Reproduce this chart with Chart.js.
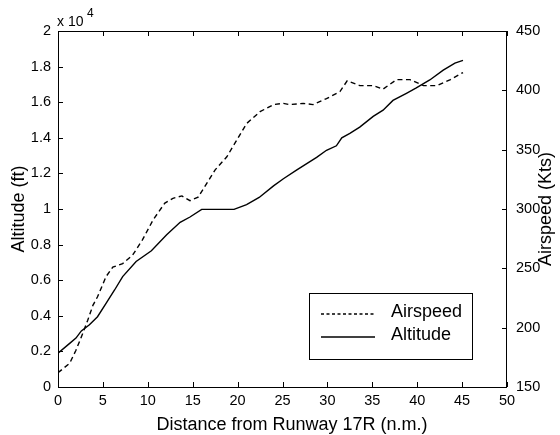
<!DOCTYPE html>
<html>
<head>
<meta charset="utf-8">
<script src="https://cdn.jsdelivr.net/npm/chart.js@4"></script>
<style>
  body { margin: 0; background: #fff; }
</style>
</head>
<body>
<canvas id="chart" width="560" height="435"></canvas>
<script>
// Altitude track (distance in n.m., altitude in ft)
const altDistance = [0, 1.3, 2.0, 2.6, 3.5, 4.4, 5.35, 6.3, 7.2, 8.7, 10.4, 12.1, 13.6, 14.7, 16.0,
  19.6, 21.0, 22.4, 24.0, 25.1, 26.6, 27.7, 28.8, 29.9, 31.0, 31.6, 32.5, 33.6, 35.1, 36.2, 37.3,
  38.8, 39.9, 41.4, 42.9, 44.2, 45.1];
const altitudeFt = [1900, 2450, 2750, 3150, 3500, 3950, 4700, 5450, 6200, 7050, 7650, 8550, 9250, 9550, 9980,
  9980, 10250, 10650, 11300, 11700, 12200, 12550, 12900, 13300, 13550, 14000, 14250, 14600, 15200, 15550, 16100,
  16500, 16800, 17250, 17800, 18200, 18350];

// Airspeed track (distance in n.m., speed in knots)
const spdDistance = [0, 1.3, 2.0, 2.75, 3.3, 3.9, 4.4, 5.35, 6.1, 7.2, 8.3, 9.4, 10.6, 11.9, 12.8, 13.8,
  14.7, 15.6, 16.6, 17.5, 18.8, 19.9, 21.0, 22.5, 24.0, 25.1, 25.8, 27.3, 28.4, 29.9, 31.4, 32.2, 33.6,
  35.1, 36.2, 37.7, 39.2, 40.7, 42.2, 43.7, 45.1];
const airspeedKts = [162, 170, 181, 195, 206, 219, 226, 243, 251, 254, 261, 274, 291, 305, 309, 311,
  307, 310, 322, 333, 344, 358, 372, 382, 388, 389, 388, 389, 388, 393, 399, 408, 404,
  404, 401, 409, 409, 404, 404, 409, 415];

const xTitle = "Distance from Runway 17R (n.m.)";
const yTitle = "Altitude (ft)";
const y2Title = "Airspeed (Kts)";

const FONT = "'Liberation Sans', Arial, Helvetica, sans-serif";
const INK = "#000";

const toPoints = (xs, ys) => xs.map((x, i) => ({ x: x, y: ys[i] }));

// matlab style box with inward ticks, exponent label, x and right titles
const boxPlugin = {
  id: "box",
  afterDraw(chart) {
    const ctx = chart.ctx;
    const a = chart.chartArea;
    const { x, y, y2 } = chart.scales;
    const len = 5;
    ctx.save();
    ctx.strokeStyle = INK;
    ctx.lineWidth = 1;
    ctx.strokeRect(a.left + 0.5, a.top + 0.5, a.right - a.left - 1, a.bottom - a.top);
    ctx.beginPath();
    x.ticks.forEach((t) => {
      const px = Math.round(x.getPixelForValue(t.value)) + 0.5;
      ctx.moveTo(px, a.bottom); ctx.lineTo(px, a.bottom - len);
      ctx.moveTo(px, a.top); ctx.lineTo(px, a.top + len);
    });
    y.ticks.forEach((t) => {
      const py = Math.round(y.getPixelForValue(t.value)) + 0.5;
      ctx.moveTo(a.left, py); ctx.lineTo(a.left + len, py);
    });
    y2.ticks.forEach((t) => {
      const py = Math.round(y2.getPixelForValue(t.value)) + 0.5;
      ctx.moveTo(a.right, py); ctx.lineTo(a.right - len, py);
    });
    ctx.stroke();

    // exponent
    ctx.fillStyle = INK;
    ctx.textBaseline = "middle";
    ctx.textAlign = "left";
    ctx.font = "14px " + FONT;
    ctx.fillText("x 10", a.left - 1, a.top - 9);
    ctx.font = "12px " + FONT;
    ctx.fillText("4", a.left + 29, a.top - 17);

    // x title, sits a little right of the axes centre
    ctx.font = "18px " + FONT;
    ctx.textAlign = "center";
    ctx.fillText(xTitle, 292, 425);

    // right axis title, reading bottom to top
    ctx.translate(546, (a.top + a.bottom) / 2);
    ctx.rotate(-Math.PI / 2);
    ctx.fillText(y2Title, 0, 0);
    ctx.restore();
  },
};

// legend box inside the plot
const legendPlugin = {
  id: "boxLegend",
  afterDraw(chart) {
    const ctx = chart.ctx;
    const bx = 309, by = 293, bw = 163, bh = 66;
    ctx.save();
    ctx.fillStyle = "#fff";
    ctx.fillRect(bx, by, bw, bh);
    ctx.strokeStyle = INK;
    ctx.lineWidth = 1;
    ctx.strokeRect(bx + 0.5, by + 0.5, bw, bh);
    chart.data.datasets.forEach((ds, i) => {
      const ly = by + 21 + i * 23;
      ctx.beginPath();
      ctx.setLineDash(ds.borderDash.length ? [3, 2.5] : []);
      ctx.lineWidth = 1.3;
      ctx.moveTo(321, ly);
      ctx.lineTo(375, ly);
      ctx.stroke();
      ctx.setLineDash([]);
      ctx.fillStyle = INK;
      ctx.font = "18px " + FONT;
      ctx.textBaseline = "middle";
      ctx.textAlign = "left";
      ctx.fillText(ds.label, 391, ly - 2);
    });
    ctx.restore();
  },
};

new Chart(document.getElementById("chart"), {
  type: "line",
  data: {
    datasets: [
      {
        label: "Airspeed",
        data: toPoints(spdDistance, airspeedKts),
        yAxisID: "y2",
        borderColor: INK,
        borderWidth: 1.4,
        borderDash: [5, 3.5],
        pointRadius: 0,
        tension: 0,
      },
      {
        label: "Altitude",
        data: toPoints(altDistance, altitudeFt),
        yAxisID: "y",
        borderColor: INK,
        borderWidth: 1.4,
        borderDash: [],
        pointRadius: 0,
        tension: 0,
      },
    ],
  },
  plugins: [boxPlugin, legendPlugin],
  options: {
    responsive: false,
    animation: false,
    layout: { padding: { top: 31, left: 0, right: 0, bottom: 0 } },
    plugins: {
      legend: { display: false },
      tooltip: { enabled: false },
    },
    scales: {
      x: {
        type: "linear",
        min: 0,
        max: 50,
        grid: { display: false, drawTicks: false },
        border: { display: false },
        ticks: {
          stepSize: 5,
          autoSkip: false,
          maxRotation: 0,
          padding: 5,
          color: INK,
          font: { family: FONT, size: 14.5 },
        },
        afterFit: (s) => { s.height = 48; },
      },
      y: {
        position: "left",
        min: 0,
        max: 20000,
        grid: { display: false, drawTicks: false },
        border: { display: false },
        ticks: {
          stepSize: 2000,
          padding: 7,
          color: INK,
          font: { family: FONT, size: 14.5 },
          callback: (v) => String(v / 10000),
        },
        title: {
          display: true,
          text: yTitle,
          color: INK,
          font: { family: FONT, size: 18 },
          padding: { top: 8, bottom: 0 },
        },
        afterFit: (s) => { s.width = 58; },
      },
      y2: {
        position: "right",
        min: 150,
        max: 450,
        grid: { display: false, drawTicks: false },
        border: { display: false },
        ticks: {
          stepSize: 50,
          padding: 9,
          color: INK,
          font: { family: FONT, size: 14.5 },
        },
        afterFit: (s) => { s.width = 53; },
      },
    },
  },
});
</script>
</body>
</html>
